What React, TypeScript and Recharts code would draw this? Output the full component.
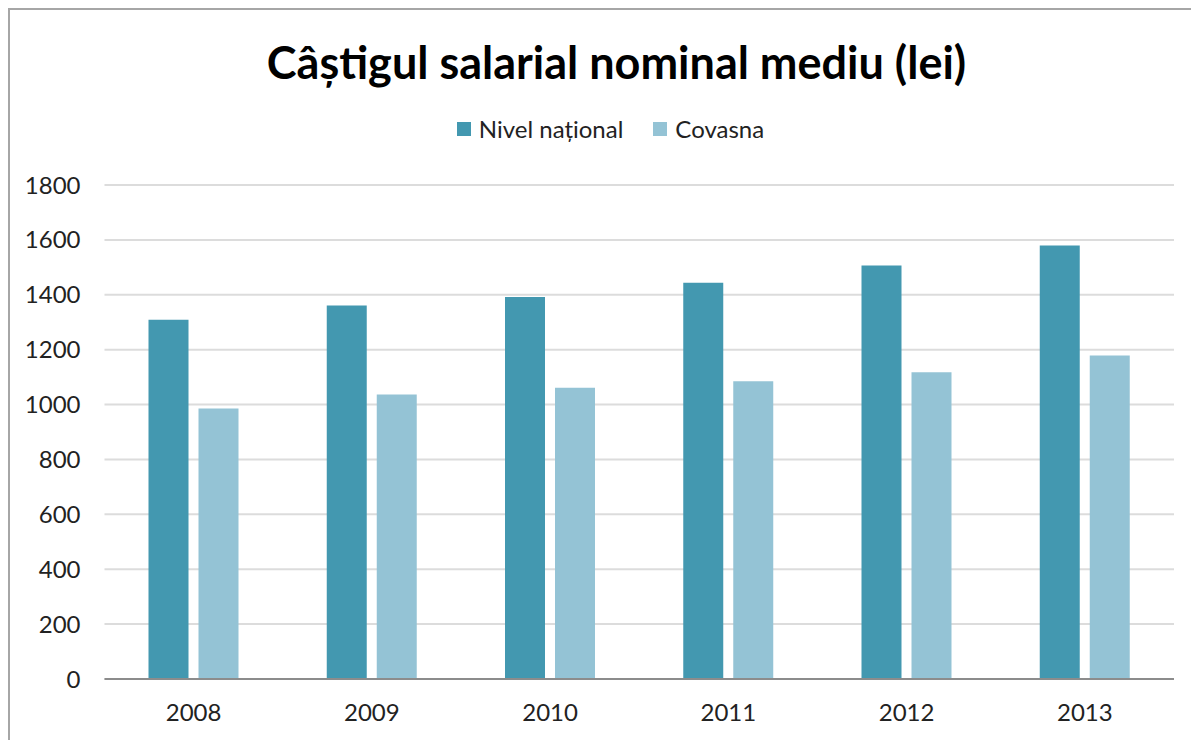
import { BarChart, Bar, XAxis, YAxis, CartesianGrid, Legend } from "recharts";

const years = ["2008", "2009", "2010", "2011", "2012", "2013"];
const national = [1309, 1361, 1392, 1444, 1507, 1580];
const covasna = [986, 1037, 1061, 1085, 1118, 1179];
const yTicks = [0, 200, 400, 600, 800, 1000, 1200, 1400, 1600, 1800];

const SERIES = [
  { key: "national", name: "Nivel național", color: "#4398B0" },
  { key: "covasna", name: "Covasna", color: "#94C3D5" },
];

const FONT = "Lato, 'Liberation Sans', sans-serif";
const W = 1189;
const H = 730;

const rows = years.map((year, i) => ({
  year,
  national: national[i],
  covasna: covasna[i],
}));

function LegendRow() {
  return (
    <div
      style={{
        display: "flex",
        justifyContent: "center",
        gap: 30,
        paddingLeft: 12,
        fontFamily: FONT,
        fontSize: 24,
        color: "#222",
      }}
    >
      {SERIES.map((s) => (
        <span key={s.key} style={{ display: "flex", alignItems: "center", gap: 8 }}>
          <span style={{ width: 14, height: 14, background: s.color, display: "inline-block" }} />
          {s.name}
        </span>
      ))}
    </div>
  );
}

export default function App() {
  return (
    <div
      style={{
        position: "relative",
        width: 1191,
        height: 732,
        boxSizing: "border-box",
        borderLeft: "2px solid #a6a6a6",
        borderTop: "2px solid #a6a6a6",
        background: "#fff",
        overflow: "hidden",
      }}
    >
      <div
        style={{
          position: "absolute",
          top: 26,
          left: 12,
          width: W,
          textAlign: "center",
          fontFamily: FONT,
          fontWeight: 700,
          fontSize: 45,
          color: "#000",
          lineHeight: "52px",
        }}
      >
        Câștigul salarial nominal mediu (lei)
      </div>
      <BarChart
        width={W}
        height={H}
        data={rows}
        margin={{ top: 175, right: 25, bottom: 1, left: 0 }}
        barSize={40}
        barGap={10}
      >
        <CartesianGrid vertical={false} stroke="#dcdcdc" strokeWidth={2} />
        <XAxis
          dataKey="year"
          height={60}
          tickSize={0}
          tickMargin={25}
          axisLine={{ stroke: "#8c8c8c", strokeWidth: 2 }}
          tick={{ fill: "#222", fontSize: 24, fontFamily: FONT }}
        />
        <YAxis
          width={94.5}
          domain={[0, 1800]}
          ticks={yTicks}
          tickSize={0}
          tickMargin={24}
          axisLine={false}
          tick={{ fill: "#222", fontSize: 24, fontFamily: FONT }}
        />
        <Legend
          verticalAlign="middle"
          align="center"
          content={() => <LegendRow />}
          wrapperStyle={{ top: 104, left: 0, width: W }}
        />
        {SERIES.map((s) => (
          <Bar key={s.key} dataKey={s.key} name={s.name} fill={s.color} isAnimationActive={false} />
        ))}
      </BarChart>
    </div>
  );
}
